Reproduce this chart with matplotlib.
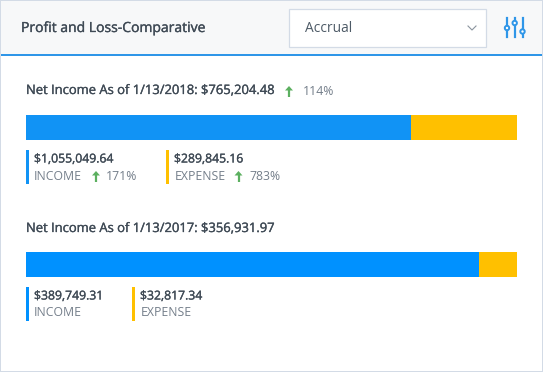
import matplotlib
matplotlib.use("Agg")
import matplotlib.pyplot as plt
import matplotlib.patheffects as pe
from matplotlib.patches import Rectangle, Circle, Polygon

W, H = 543, 372
title = "Profit and Loss-Comparative"
dropdown = "Accrual"
net_labels = ["Net Income As of 1/13/2018: $765,204.48", "Net Income As of 1/13/2017: $356,931.97"]
income = [1055049.64, 389749.31]
expense = [289845.16, 32817.34]
income_text = ["$1,055,049.64", "$389,749.31"]
expense_text = ["$289,845.16", "$32,817.34"]
net_change = "114%"
income_change = "171%"
expense_change = "783%"
income_colors = ["#1193f5", "#0091ff"]
expense_color = "#ffc000"
accent = "#2f96e8"
border = "#d3dbe6"
dark = "#3f4a55"
gray = "#747e8a"
green = "#5cb060"

plt.rcParams['font.family'] = ['Open Sans', 'DejaVu Sans']
fig = plt.figure(figsize=(W/100, H/100), dpi=100, facecolor="white")
bg = fig.add_axes([0, 0, 1, 1])
bg.set_xlim(0, W); bg.set_ylim(H, 0); bg.axis("off")

def rect(x, y, w, h, **kw):
    kw.setdefault("linewidth", 0)
    bg.add_patch(Rectangle((x, y), w, h, **kw))

def label(x, y, s, size=9, color=dark, bold=False, **kw):
    t = bg.text(x, y, s, fontsize=size, color=color, va="center", ha="left", **kw)
    if bold:
        t.set_path_effects([pe.withStroke(linewidth=0.22, foreground=color)])

def arrow(x, y):
    bg.plot([x, x], [y - 3, y + 6], color=green, lw=1.6, solid_capstyle="butt")
    bg.add_patch(Polygon([(x - 4, y - 0.5), (x + 4, y - 0.5), (x, y - 5)], facecolor=green, linewidth=0))

# panel
rect(0, 0, W, 54, facecolor="#f7f8f9")
rect(0, 53.5, W, 2, facecolor=accent)
rect(0, 0, W, 1, facecolor=border)
rect(0, H - 1, W, 1, facecolor=border)
rect(0, 0, 1, H, facecolor=border)
rect(W - 1, 0, 1, H, facecolor=border)
label(21, 28.5, title, size=10.05, color=dark, bold=True)

# dropdown
rect(289, 8.5, 197, 38, facecolor="white", edgecolor=border, linewidth=0.9)
label(305, 29, dropdown, size=9.9, color="#4d5a66")
bg.plot([468, 472, 476], [26, 30, 26], color="#8a949e", lw=0.8)

# filter icon
for x, knob in zip([507, 514.7, 522.5], [28, 23, 31.5]):
    bg.plot([x, x], [17.5, 37], color=accent, lw=1.6)
    bg.add_patch(Circle((x, knob), 2.2, facecolor="white", edgecolor=accent, linewidth=1.4, zorder=3))

# net income labels
label(26, 90.5, net_labels[0], size=9.35, color=dark, bold=True)
arrow(289, 91)
label(303, 91.5, net_change, size=8.8, color=gray)
label(26, 228.5, net_labels[1], size=9.35, color=dark, bold=True)

# stacked bars
bar_tops = [115, 252]
for i, top in enumerate(bar_tops):
    ax = fig.add_axes([26/W, 1 - (top + 25)/H, 491/W, 25/H])
    ax.barh([0], [income[i]], height=1, color=income_colors[i], linewidth=0)
    ax.barh([0], [expense[i]], left=[income[i]], height=1, color=expense_color, linewidth=0)
    ax.set_xlim(0, income[i] + expense[i]); ax.set_ylim(-0.5, 0.5); ax.axis("off")

# legends
rect(26, 150, 3, 34, facecolor=income_colors[0])
label(34, 159, income_text[0], size=8.8, color=dark, bold=True)
label(34, 176, "INCOME", size=8.8, color=gray)
arrow(96, 176)
label(106, 176, income_change, size=8.8, color=gray)

rect(166, 150, 3, 34, facecolor=expense_color)
label(174, 159, expense_text[0], size=8.8, color=dark, bold=True)
label(174.5, 176, "EXPENSE", size=8.8, color=gray)
arrow(238.5, 176)
label(249.5, 176, expense_change, size=8.8, color=gray)

rect(26, 287, 3, 34, facecolor=income_colors[1])
label(34, 296, income_text[1], size=8.8, color=dark, bold=True)
label(34, 313, "INCOME", size=8.8, color=gray)

rect(132, 287, 3, 34, facecolor=expense_color)
label(140, 296, expense_text[1], size=8.8, color=dark, bold=True)
label(140.5, 313, "EXPENSE", size=8.8, color=gray)

fig.savefig("out.png", dpi=100)
